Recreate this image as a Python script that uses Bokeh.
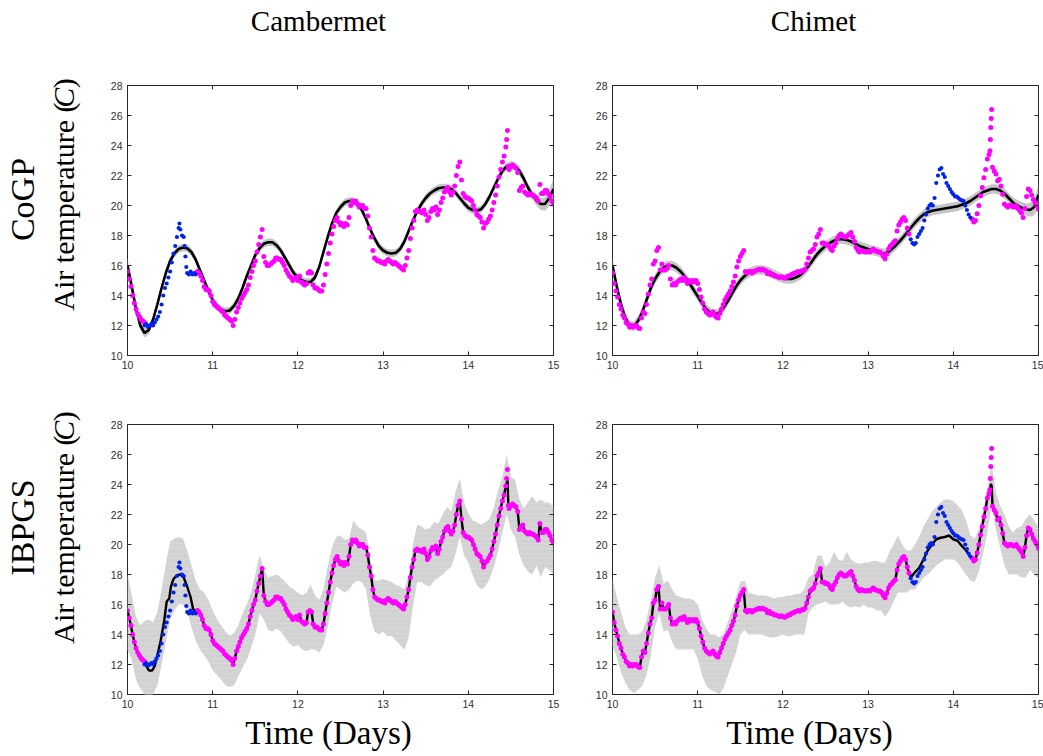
import numpy as np
from bokeh.plotting import figure
from bokeh.layouts import column, row
from bokeh.models import Label, LinearAxis, FixedTicker, Range1d
from bokeh.embed import file_html
from bokeh.resources import INLINE

# ---------------- data ----------------
station_titles = ["Cambermet", "Chimet"]
method_labels = ["CoGP", "IBPGS"]
y_label_parts = ["Air temperature (", "C", ")"]
x_label = "Time (Days)"
x_ticks = [10, 11, 12, 13, 14, 15]
y_ticks = [10, 12, 14, 16, 18, 20, 22, 24, 26, 28]

# common abscissa of the model curves (days)
grid_t = [10.00, 10.05, 10.10, 10.15, 10.20, 10.25, 10.30, 10.35, 10.40, 10.45,
          10.50, 10.55, 10.60, 10.65, 10.70, 10.75, 10.80, 10.85, 10.90, 10.95,
          11.00, 11.05, 11.10, 11.15, 11.20, 11.25, 11.30, 11.35, 11.40, 11.45,
          11.50, 11.55, 11.60, 11.65, 11.70, 11.75, 11.80, 11.85, 11.90, 11.95,
          12.00, 12.05, 12.10, 12.15, 12.20, 12.25, 12.30, 12.35, 12.40, 12.45,
          12.50, 12.55, 12.60, 12.65, 12.70, 12.75, 12.80, 12.85, 12.90, 12.95,
          13.00, 13.05, 13.10, 13.15, 13.20, 13.25, 13.30, 13.35, 13.40, 13.45,
          13.50, 13.55, 13.60, 13.65, 13.70, 13.75, 13.80, 13.85, 13.90, 13.95,
          14.00, 14.05, 14.10, 14.15, 14.20, 14.25, 14.30, 14.35, 14.40, 14.45,
          14.50, 14.55, 14.60, 14.65, 14.70, 14.75, 14.80, 14.85, 14.90, 14.95,
          15.00]

# CoGP predictive mean and half-width of the band
cogp_cam_mean = [16.0, 14.6, 13.1, 12.0, 11.5, 11.7, 12.4, 13.4, 14.5, 15.5,
                 16.3, 16.8, 17.1, 17.2, 17.15, 16.9, 16.4, 15.7, 15.0, 14.3,
                 13.7, 13.3, 13.05, 12.95, 13.0, 13.3, 13.8, 14.5, 15.3, 16.0,
                 16.7, 17.15, 17.45, 17.55, 17.55, 17.35, 17.0, 16.5, 16.0, 15.5,
                 15.2, 15.0, 14.9, 14.9, 15.2, 15.9, 16.9, 17.9, 18.8, 19.5,
                 19.9, 20.2, 20.3, 20.3, 20.1, 19.7, 19.1, 18.4, 17.8, 17.3,
                 17.0, 16.85, 16.8, 16.85, 17.1, 17.6, 18.3, 19.0, 19.6, 20.1,
                 20.5, 20.8, 21.0, 21.15, 21.2, 21.2, 21.1, 20.85, 20.5, 20.15,
                 19.85, 19.7, 19.65, 19.75, 20.1, 20.6, 21.2, 21.8, 22.3, 22.6,
                 22.7, 22.6, 22.3, 21.8, 21.2, 20.7, 20.35, 20.1, 20.1, 20.5,
                 21.1]
cogp_cam_sd = [0.5, 0.4, 0.35, 0.3, 0.3, 0.28, 0.26, 0.25, 0.25, 0.25,
               0.25, 0.25, 0.25, 0.25, 0.25, 0.25, 0.25, 0.25, 0.25, 0.25,
               0.25, 0.25, 0.25, 0.25, 0.25, 0.25, 0.25, 0.25, 0.25, 0.25,
               0.25, 0.25, 0.25, 0.25, 0.25, 0.25, 0.25, 0.25, 0.25, 0.25,
               0.25, 0.25, 0.25, 0.25, 0.25, 0.25, 0.25, 0.25, 0.25, 0.25,
               0.25, 0.25, 0.25, 0.25, 0.25, 0.25, 0.25, 0.25, 0.25, 0.25,
               0.25, 0.25, 0.25, 0.25, 0.25, 0.25, 0.25, 0.25, 0.25, 0.25,
               0.25, 0.25, 0.25, 0.25, 0.25, 0.25, 0.25, 0.25, 0.25, 0.25,
               0.25, 0.25, 0.25, 0.25, 0.25, 0.25, 0.25, 0.25, 0.25, 0.25,
               0.27, 0.28, 0.3, 0.3, 0.3, 0.32, 0.35, 0.4, 0.45, 0.55,
               0.7]
cogp_chi_mean = [16.0, 14.6, 13.4, 12.5, 12.0, 11.95, 12.3, 12.9, 13.7, 14.5,
                 15.1, 15.55, 15.85, 16.0, 16.0, 15.85, 15.6, 15.25, 14.85, 14.4,
                 13.95, 13.5, 13.1, 12.85, 12.75, 12.85, 13.15, 13.6, 14.1, 14.6,
                 15.0, 15.3, 15.5, 15.65, 15.7, 15.7, 15.65, 15.55, 15.4, 15.25,
                 15.15, 15.1, 15.1, 15.2, 15.35, 15.6, 15.95, 16.35, 16.75, 17.05,
                 17.3, 17.5, 17.65, 17.75, 17.75, 17.7, 17.6, 17.45, 17.3, 17.2,
                 17.1, 17.0, 16.95, 16.85, 16.8, 16.95, 17.2, 17.5, 17.8, 18.15,
                 18.5, 18.85, 19.15, 19.4, 19.55, 19.65, 19.7, 19.75, 19.8, 19.85,
                 19.9, 19.95, 20.05, 20.15, 20.3, 20.5, 20.7, 20.9, 21.0, 21.1,
                 21.1, 21.0, 20.8, 20.5, 20.2, 20.0, 19.85, 19.75, 19.7, 19.9,
                 20.7]
cogp_chi_sd = [0.5, 0.42, 0.38, 0.35, 0.33, 0.32, 0.32, 0.32, 0.32, 0.32,
               0.32, 0.32, 0.32, 0.32, 0.32, 0.32, 0.32, 0.32, 0.32, 0.32,
               0.32, 0.32, 0.32, 0.32, 0.32, 0.32, 0.32, 0.32, 0.32, 0.32,
               0.32, 0.32, 0.32, 0.32, 0.32, 0.32, 0.32, 0.32, 0.32, 0.32,
               0.32, 0.32, 0.32, 0.32, 0.32, 0.32, 0.32, 0.32, 0.32, 0.32,
               0.32, 0.32, 0.32, 0.32, 0.32, 0.32, 0.32, 0.32, 0.32, 0.32,
               0.32, 0.32, 0.32, 0.32, 0.32, 0.32, 0.32, 0.32, 0.32, 0.32,
               0.32, 0.32, 0.32, 0.32, 0.32, 0.32, 0.32, 0.32, 0.32, 0.32,
               0.32, 0.32, 0.32, 0.32, 0.32, 0.32, 0.32, 0.32, 0.32, 0.32,
               0.32, 0.32, 0.33, 0.34, 0.35, 0.36, 0.38, 0.4, 0.45, 0.55,
               0.7]

# IBPGS predictive band (lower / upper)
ibp_cam_lo = [13.0, 12.3, 11.0, 10.4, 10.0, 9.8, 10.0, 10.6, 12.0, 13.5,
              15.0, 15.6, 16.0, 16.0, 15.6, 14.5, 13.6, 13.0, 12.6, 12.2,
              11.6, 11.3, 11.0, 10.6, 10.5, 10.6, 11.2, 11.8, 12.3, 13.1,
              14.0, 15.4, 15.0, 14.3, 14.2, 14.4, 14.2, 13.8, 13.4, 13.2,
              13.3, 13.0, 12.9, 13.0, 13.0, 12.8, 13.3, 14.5, 16.0, 17.2,
              17.0, 16.8, 17.0, 17.4, 17.6, 17.5, 17.0, 15.2, 14.2, 14.0,
              14.2, 13.9, 13.9, 13.6, 13.3, 13.0, 13.8, 15.9, 17.5, 17.5,
              17.3, 17.2, 17.6, 17.8, 18.0, 18.3, 18.5, 19.4, 20.5, 19.3,
              18.8, 18.0, 17.3, 17.0, 17.2, 17.7, 18.5, 19.6, 20.8, 22.0,
              21.0, 20.5, 19.3, 18.6, 18.2, 18.0, 18.6, 17.8, 18.5, 18.3,
              18.0]
ibp_cam_hi = [18.0, 16.6, 15.2, 14.6, 14.9, 15.0, 14.8, 15.5, 17.0, 18.7,
              20.2, 20.4, 20.5, 20.4, 19.6, 18.6, 17.6, 17.0, 16.8, 16.3,
              15.6, 15.0, 14.6, 14.2, 13.9, 14.1, 14.6, 15.4, 16.0, 16.8,
              18.0, 19.3, 18.4, 17.8, 17.9, 18.0, 17.8, 17.5, 17.2, 17.0,
              16.8, 16.6, 16.8, 17.3, 16.6, 16.3, 17.0, 18.5, 19.8, 20.5,
              20.6, 20.3, 20.4, 21.6, 21.2, 21.0, 20.8, 19.0, 17.6, 17.6,
              17.7, 17.6, 17.5, 17.3, 17.2, 17.0, 18.0, 20.0, 21.3, 21.2,
              21.0, 21.1, 21.5, 21.4, 22.0, 22.5, 22.2, 23.5, 24.4, 22.8,
              22.1, 21.6, 21.5, 21.3, 21.5, 21.7, 22.5, 23.6, 24.5, 26.0,
              24.5, 24.3, 23.0, 22.4, 22.8, 23.2, 22.8, 23.0, 22.8, 22.8,
              22.5]
ibp_chi_lo = [13.2, 12.5, 11.5, 10.8, 10.3, 10.1, 10.3, 10.6, 11.3, 12.6,
              14.5, 15.4, 14.2, 14.3, 13.5, 13.0, 13.0, 13.0, 13.0, 13.0,
              12.4, 11.3, 10.6, 10.3, 10.2, 10.0, 10.4, 11.2, 12.0, 12.8,
              14.0, 14.3, 14.0, 14.0, 14.0, 14.0, 13.9, 13.8, 13.8, 13.9,
              14.0, 13.9, 13.9, 14.0, 14.0, 14.0, 15.4, 15.8, 16.0, 16.1,
              16.2, 16.0, 16.0, 16.0, 16.2, 15.9, 15.8, 15.9, 15.8, 16.0,
              15.8, 15.8, 15.6, 15.6, 15.2, 15.6, 16.2, 16.8, 16.8, 16.8,
              17.0, 17.0, 17.4, 17.8, 18.0, 18.3, 18.6, 18.8, 19.0, 19.0,
              19.0, 18.8, 18.4, 18.0, 17.6, 17.5, 18.2, 19.4, 20.8, 22.6,
              21.0, 19.8, 18.6, 18.0, 18.0, 18.0, 17.8, 17.8, 18.3, 18.0,
              17.7]
ibp_chi_hi = [17.7, 16.5, 15.5, 14.5, 14.0, 14.0, 14.0, 14.2, 15.0, 16.3,
              17.8, 18.6, 17.4, 17.6, 17.0, 16.6, 16.5, 16.4, 16.4, 16.3,
              16.0, 15.0, 14.4, 14.0, 14.0, 13.8, 14.0, 14.8, 15.6, 16.5,
              17.5, 17.6, 16.8, 16.7, 16.6, 16.6, 16.6, 16.5, 16.4, 16.5,
              16.5, 16.6, 16.6, 16.7, 16.7, 17.0, 17.8, 18.0, 19.2, 19.3,
              18.5, 18.8, 19.5, 19.0, 18.9, 19.5, 19.0, 18.8, 18.7, 18.8,
              18.8, 18.9, 18.9, 18.8, 18.8, 19.5, 20.0, 20.6, 20.0, 19.6,
              19.6, 20.0, 20.5, 21.2, 21.7, 22.2, 22.5, 22.8, 23.0, 23.0,
              22.9, 22.6, 22.3, 21.6, 20.6, 20.4, 21.0, 22.2, 23.8, 25.4,
              23.5, 22.6, 22.0, 21.2, 20.8, 21.1, 21.2, 21.7, 22.0, 21.6,
              21.2]

# observed air temperature, Cambermet (magenta)
cam_t = [10.00, 10.02, 10.04, 10.06, 10.08, 10.10, 10.12, 10.14, 10.16, 10.18, 10.20,
         10.82, 10.84, 10.86, 10.88, 10.90, 10.92, 10.94, 10.96, 10.98,
         11.00, 11.02, 11.04, 11.06, 11.08, 11.10, 11.12, 11.14, 11.16, 11.18,
         11.20, 11.22, 11.24, 11.26, 11.28, 11.30, 11.32, 11.34, 11.36, 11.38,
         11.40, 11.42, 11.44, 11.46, 11.48, 11.50, 11.52, 11.54, 11.56, 11.58,
         11.60, 11.62, 11.64, 11.66, 11.68, 11.70, 11.72, 11.74, 11.76, 11.78,
         11.80, 11.82, 11.84, 11.86, 11.88, 11.90, 11.92, 11.94, 11.96, 11.98,
         12.00, 12.02, 12.04, 12.06, 12.08, 12.10, 12.12, 12.14, 12.16, 12.18,
         12.20, 12.22, 12.24, 12.26, 12.28, 12.30, 12.32, 12.34, 12.36, 12.38,
         12.40, 12.42, 12.44, 12.46, 12.48, 12.50, 12.52, 12.54, 12.56, 12.58,
         12.60, 12.62, 12.64, 12.66, 12.68, 12.70, 12.72, 12.74, 12.76, 12.78,
         12.80, 12.82, 12.84, 12.86, 12.88, 12.90, 12.92, 12.94, 12.96, 12.98,
         13.00, 13.02, 13.04, 13.06, 13.08, 13.10, 13.12, 13.14, 13.16, 13.18,
         13.20, 13.22, 13.24, 13.26, 13.28, 13.30, 13.32, 13.34, 13.36, 13.38,
         13.40, 13.42, 13.44, 13.46, 13.48, 13.50, 13.52, 13.54, 13.56, 13.58,
         13.60, 13.62, 13.64, 13.66, 13.68, 13.70, 13.72, 13.74, 13.76, 13.78,
         13.80, 13.82, 13.84, 13.86, 13.88, 13.90, 13.92, 13.94, 13.96, 13.98,
         14.00, 14.02, 14.04, 14.06, 14.08, 14.10, 14.12, 14.14, 14.16, 14.18,
         14.20, 14.22, 14.24, 14.26, 14.28, 14.30, 14.32, 14.34, 14.36, 14.38,
         14.40, 14.42, 14.44, 14.45, 14.46, 14.47, 14.48, 14.50, 14.52, 14.54,
         14.56, 14.58, 14.60, 14.62, 14.64, 14.66, 14.68, 14.70, 14.72, 14.74,
         14.76, 14.78, 14.80, 14.82, 14.84, 14.86, 14.88, 14.90, 14.92, 14.94,
         14.96, 14.98, 15.00]
cam_v = [15.6, 15.1, 14.6, 14.0, 13.5, 13.1, 12.8, 12.6, 12.4, 12.3, 12.2,
         15.6, 15.5, 15.3, 15.0, 14.6, 14.4, 14.4, 14.3, 14.0,
         13.6, 13.4, 13.3, 13.2, 13.1, 13.0, 12.9, 12.7, 12.6, 12.5,
         12.4, 12.3, 12.0, 12.4, 12.9, 13.2, 13.5, 13.8, 14.0, 14.2,
         14.4, 14.7, 15.2, 15.6, 16.0, 16.3, 16.9, 17.4, 17.9, 18.4,
         16.6, 16.2, 16.0, 16.0, 16.1, 16.2, 16.3, 16.5, 16.5, 16.4,
         16.4, 16.2, 16.0, 15.7, 15.5, 15.3, 15.2, 15.0, 15.1, 15.2,
         15.0, 15.3, 14.9, 14.8, 14.7, 14.8, 15.5, 15.6, 15.5, 14.7,
         14.5, 14.5, 14.4, 14.3, 14.3, 14.7, 15.4, 16.1, 16.8, 17.5,
         18.1, 18.6, 19.0, 19.2, 18.9, 18.7, 18.8, 18.6, 18.8, 18.7,
         19.2, 20.0, 20.3, 20.2, 20.3, 20.1, 19.9, 20.0, 20.0, 19.8,
         19.8, 19.3, 18.5, 17.9, 17.0, 16.5, 16.4, 16.3, 16.3, 16.2,
         16.2, 16.1, 16.3, 16.4, 16.3, 16.2, 16.1, 16.2, 16.1, 16.0,
         15.9, 15.8, 15.7, 16.0, 16.5, 17.0, 17.8, 18.5, 19.0, 19.6,
         19.7, 19.6, 19.6, 19.5, 19.7, 19.4, 19.0, 19.2, 19.6, 19.8,
         19.7, 19.9, 19.4, 19.7, 20.2, 20.5, 20.9, 21.1, 21.2, 20.9,
         20.7, 20.9, 21.3, 22.0, 22.6, 22.9, 21.7, 20.8, 20.6, 20.5,
         20.5, 20.4, 20.3, 20.0, 19.7, 19.4, 19.3, 19.2, 18.9, 18.5,
         18.8, 18.9, 19.1, 19.3, 19.7, 20.2, 20.7, 21.3, 21.9, 22.4,
         22.9, 23.3, 23.9, 24.4, 25.0, 22.6, 22.4, 22.6, 22.7, 22.6,
         22.5, 22.2, 21.0, 21.2, 21.3, 20.9, 20.8, 20.7, 20.8, 20.7,
         20.7, 20.6, 20.5, 20.3, 21.4, 20.8, 20.8, 21.0, 21.0, 20.8,
         20.6, 20.3, 20.1]

# held-out Cambermet readings (blue)
cam_gap_t = [10.20, 10.22, 10.24, 10.26, 10.28, 10.30, 10.32, 10.34, 10.36, 10.38,
             10.40, 10.42, 10.44, 10.46, 10.48, 10.50, 10.52, 10.54, 10.56, 10.58,
             10.60, 10.61, 10.62, 10.64, 10.66, 10.67, 10.68, 10.69, 10.70, 10.72,
             10.74, 10.76, 10.78, 10.80]
cam_gap_v = [12.0, 12.1, 11.9, 12.0, 12.1, 12.0, 12.2, 12.4, 12.6, 12.9,
             13.4, 14.0, 14.5, 14.8, 15.2, 15.6, 16.2, 16.8, 17.3, 17.9,
             18.5, 18.8, 18.4, 18.0, 17.9, 17.3, 16.6, 15.9, 15.5, 15.4,
             15.6, 15.4, 15.5, 15.4]

# observed air temperature, Chimet (magenta)
chi_t = [10.00, 10.02, 10.04, 10.06, 10.08, 10.10, 10.12, 10.14, 10.16, 10.18,
         10.20, 10.22, 10.24, 10.26, 10.28, 10.30, 10.32, 10.34, 10.36, 10.38,
         10.40, 10.42, 10.44, 10.46, 10.48, 10.50, 10.52, 10.54, 10.56, 10.58,
         10.60, 10.62, 10.64, 10.66, 10.68, 10.70, 10.72, 10.74, 10.76, 10.78,
         10.80, 10.82, 10.84, 10.86, 10.88, 10.90, 10.92, 10.94, 10.96, 10.98,
         11.00, 11.02, 11.04, 11.06, 11.08, 11.10, 11.12, 11.14, 11.16, 11.18,
         11.20, 11.22, 11.24, 11.26, 11.28, 11.30, 11.32, 11.34, 11.36, 11.38,
         11.40, 11.42, 11.44, 11.46, 11.48, 11.50, 11.52, 11.54, 11.56, 11.58,
         11.60, 11.62, 11.64, 11.66, 11.68, 11.70, 11.72, 11.74, 11.76, 11.78,
         11.80, 11.82, 11.84, 11.86, 11.88, 11.90, 11.92, 11.94, 11.96, 11.98,
         12.00, 12.02, 12.04, 12.06, 12.08, 12.10, 12.12, 12.14, 12.16, 12.18,
         12.20, 12.22, 12.24, 12.26, 12.28, 12.30, 12.32, 12.34, 12.36, 12.38,
         12.40, 12.42, 12.44, 12.46, 12.48, 12.50, 12.52, 12.54, 12.56, 12.58,
         12.60, 12.62, 12.64, 12.66, 12.68, 12.70, 12.72, 12.74, 12.76, 12.78,
         12.80, 12.82, 12.84, 12.86, 12.88, 12.90, 12.92, 12.94, 12.96, 12.98,
         13.00, 13.02, 13.04, 13.06, 13.08, 13.10, 13.12, 13.14, 13.16, 13.18,
         13.20, 13.22, 13.24, 13.26, 13.28, 13.30, 13.32, 13.34, 13.36, 13.38,
         13.40, 13.42, 13.44, 13.46, 13.48,
         14.22, 14.24, 14.26, 14.28, 14.30, 14.32, 14.34, 14.36, 14.38, 14.40,
         14.42, 14.43, 14.435, 14.44, 14.445, 14.45, 14.46, 14.48, 14.50, 14.52,
         14.54, 14.56, 14.58, 14.60, 14.62, 14.64, 14.66, 14.68, 14.70, 14.72,
         14.74, 14.76, 14.78, 14.80, 14.82, 14.84, 14.86, 14.88, 14.90, 14.92,
         14.94, 14.96, 14.98, 15.00]
chi_v = [15.5, 14.8, 14.3, 13.9, 13.4, 13.1, 12.7, 12.5, 12.2, 12.1,
         11.9, 12.0, 11.9, 12.0, 12.0, 11.85, 11.8, 12.5, 12.9, 12.8,
         13.4, 14.1, 14.7, 15.1, 16.1, 16.3, 17.0, 17.2, 15.7, 16.1,
         15.7, 15.7, 15.8, 16.0, 15.1, 14.7, 14.8, 14.7, 14.9, 15.0,
         15.1, 15.0, 15.2, 15.0, 14.8, 15.0, 14.9, 15.0, 14.9, 15.0,
         14.8, 14.4, 13.9, 13.5, 13.1, 12.9, 12.8, 12.7, 12.8, 12.9,
         12.7, 12.55, 12.5, 12.8, 13.1, 13.4, 13.7, 13.9, 14.1, 14.3,
         14.6, 14.9, 15.3, 15.9, 16.3, 16.6, 16.8, 17.0, 15.6, 15.5,
         15.6, 15.6, 15.5, 15.6, 15.65, 15.7, 15.75, 15.7, 15.75, 15.7,
         15.65, 15.45, 15.55, 15.4, 15.4, 15.3, 15.3, 15.25, 15.2, 15.25,
         15.2, 15.15, 15.2, 15.3, 15.3, 15.4, 15.45, 15.5, 15.55, 15.6,
         15.55, 15.65, 15.65, 15.75, 16.1, 16.5, 16.9, 17.0, 17.1, 17.4,
         17.9, 18.1, 18.4, 17.5, 17.5, 17.4, 17.4, 17.3, 17.1, 17.0,
         17.3, 17.5, 17.8, 18.0, 18.1, 18.0, 17.9, 17.9, 18.0, 18.1,
         18.2, 17.9, 17.6, 17.2, 17.0, 16.9, 17.0, 16.95, 16.9, 16.9,
         16.95, 16.9, 17.0, 17.1, 17.0, 16.95, 16.9, 16.9, 16.8, 16.6,
         16.45, 16.75, 17.1, 17.3, 17.4, 17.55, 17.65, 18.3, 18.7, 18.9,
         19.1, 19.2, 19.0, 18.5, 18.1,
         19.1, 18.9, 19.0, 19.45, 20.0, 20.65, 21.2, 21.85, 22.4, 23.1,
         23.4, 23.65, 24.4, 25.2, 25.8, 26.4, 22.55, 22.3, 22.1, 21.65,
         21.75, 21.3, 20.75, 20.1, 20.0, 19.9, 20.0, 20.0, 19.9, 19.9,
         20.0, 19.8, 19.65, 19.5, 19.2, 19.8, 20.6, 21.1, 21.0, 20.7,
         20.4, 20.2, 20.0, 19.75]

# held-out Chimet readings (blue)
chi_gap_t = [13.50, 13.52, 13.54, 13.56, 13.58, 13.60, 13.62, 13.64, 13.66, 13.68,
             13.70, 13.72, 13.74, 13.76, 13.78, 13.80, 13.82, 13.84, 13.86, 13.88,
             13.90, 13.92, 13.94, 13.96, 13.98, 14.00, 14.02, 14.04, 14.06, 14.08,
             14.10, 14.12, 14.14, 14.16, 14.18, 14.20]
chi_gap_v = [17.75, 17.5, 17.4, 17.5, 17.9, 18.1, 18.3, 18.5, 19.0, 19.4,
             19.8, 20.0, 20.1, 20.0, 20.5, 21.5, 22.0, 22.4, 22.5, 22.1,
             21.9, 21.5, 21.3, 21.1, 20.9, 20.75, 20.6, 20.6, 20.5, 20.4,
             20.35, 20.3, 20.0, 19.7, 19.4, 19.2]

# IBPGS mean inside the held-out windows
ibp_cam_gap_t = [10.19, 10.22, 10.25, 10.29, 10.32, 10.35, 10.39, 10.43, 10.46, 10.49,
                 10.51, 10.54, 10.58, 10.62, 10.66, 10.70, 10.74, 10.77, 10.80, 10.81]
ibp_cam_gap_v = [12.2, 11.9, 11.6, 11.6, 11.9, 12.6, 13.6, 14.9, 16.2, 16.4,
                 17.2, 17.7, 17.95, 18.0, 17.8, 17.2, 16.5, 15.7, 15.6, 15.6]
ibp_chi_gap_t = [13.49, 13.50, 13.55, 13.60, 13.65, 13.70, 13.75, 13.80, 13.85, 13.90,
                 13.95, 14.00, 14.05, 14.10, 14.15, 14.20, 14.21]
ibp_chi_gap_v = [18.1, 17.8, 18.15, 18.45, 19.0, 19.6, 20.0, 20.35, 20.45, 20.5,
                 20.6, 20.35, 20.25, 19.9, 19.6, 19.2, 19.1]
# IBPGS mean at the short spikes, where it stays below the readings
ibp_cam_peak_t = [14.45, 14.46]
ibp_cam_peak_v = [24.1, 24.3]
ibp_chi_peak_t = [14.435, 14.44, 14.445, 14.45]
ibp_chi_peak_v = [23.8, 24.0, 24.0, 23.9]

# ---------------- styling ----------------
MAGENTA = "#ff00ff"
BLUE = "#0022ee"
FRAME = "#262626"
SERIF = "Liberation Serif"
FW, FH = 426, 270
W_TOTAL, H_TOTAL = 1043, 756
TOP_H, BOT_H, LEFT_W = 45, 42, 107
RIGHT_W = W_TOTAL - LEFT_W


def text_strip(width, height):
    s = figure(width=width, height=height, x_range=Range1d(0, 1), y_range=Range1d(0, 1),
               x_axis_type=None, y_axis_type=None, title=None,
               output_backend="svg", toolbar_location=None, min_border=0)
    s.outline_line_color = None
    s.grid.visible = False
    s.background_fill_color = "white"
    s.border_fill_color = "white"
    return s


def put(s, text, x, y, size, angle=0.0, align="center", style="normal"):
    s.add_layout(Label(x=x, y=y, x_units="screen", y_units="screen", text=text,
                       text_font=SERIF, text_font_size=size, text_color="black",
                       text_font_style=style, text_align=align,
                       text_baseline="middle", angle=angle))


def make_panel(bl, br, bt, bb):
    p = figure(frame_width=FW, frame_height=FH,
               x_range=Range1d(10, 15), y_range=Range1d(10, 28), title=None,
               output_backend="svg", toolbar_location=None,
               min_border_left=bl, min_border_right=br,
               min_border_top=bt, min_border_bottom=bb)
    p.xgrid.visible = False
    p.ygrid.visible = False
    p.outline_line_color = FRAME
    p.outline_line_width = 1
    p.background_fill_color = "white"
    p.border_fill_color = "white"
    for ax in (p.xaxis[0], p.yaxis[0]):
        ax.axis_line_color = None
        ax.major_tick_in = 4
        ax.major_tick_out = 0
        ax.minor_tick_line_color = None
        ax.major_tick_line_color = FRAME
        ax.major_label_text_font = "Liberation Sans"
        ax.major_label_text_font_size = "10.5px"
        ax.major_label_text_color = "#303030"
        ax.major_label_standoff = 5
    p.xaxis[0].ticker = FixedTicker(ticks=x_ticks)
    p.yaxis[0].ticker = FixedTicker(ticks=y_ticks)
    for side, tks in (("above", x_ticks), ("right", y_ticks)):
        ax = LinearAxis(ticker=FixedTicker(ticks=tks), axis_line_color=None,
                        major_tick_in=4, major_tick_out=0,
                        major_tick_line_color=FRAME,
                        minor_tick_line_color=None,
                        major_label_text_font_size="1px",
                        major_label_text_color=None,
                        major_label_standoff=0)
        p.add_layout(ax, side)
    return p


def ibpgs_mean(t_obs, v_obs, t_gap, v_gap, t_peak, v_peak):
    keep = [(t, v) for t, v in zip(t_obs, v_obs) if t not in t_peak]
    t = np.array([k[0] for k in keep] + list(t_gap) + list(t_peak))
    v = np.array([k[1] for k in keep] + list(v_gap) + list(v_peak))
    order = np.argsort(t, kind="stable")
    return t[order], v[order]


stations = [
    (cogp_cam_mean, cogp_cam_sd, ibp_cam_lo, ibp_cam_hi, cam_t, cam_v,
     cam_gap_t, cam_gap_v, ibp_cam_gap_t, ibp_cam_gap_v, ibp_cam_peak_t, ibp_cam_peak_v),
    (cogp_chi_mean, cogp_chi_sd, ibp_chi_lo, ibp_chi_hi, chi_t, chi_v,
     chi_gap_t, chi_gap_v, ibp_chi_gap_t, ibp_chi_gap_v, ibp_chi_peak_t, ibp_chi_peak_v),
]

# borders: (left, right, top, bottom)
borders = {
    (0, 0): (20, 12, 40, 35), (0, 1): (47, 5, 40, 35),
    (1, 0): (20, 12, 34, 20), (1, 1): (47, 5, 34, 20),
}

panel_rows = []
for r in range(2):
    prow = []
    for c in range(2):
        (cm, csd, ilo, ihi, ot, ov, gt, gv, igt, igv, ipt, ipv) = stations[c]
        p = make_panel(*borders[(r, c)])
        gx = np.array(grid_t)
        if r == 0:
            m = np.array(cm)
            s = np.array(csd)
            p.varea(x=gx, y1=m - s, y2=m + s, fill_color="#c6c6c6", fill_alpha=1.0)
            p.line(gx, m, line_color="black", line_width=2.6)
        else:
            p.varea(x=gx, y1=np.array(ilo), y2=np.array(ihi),
                    fill_color="#d2d2d2", fill_alpha=1.0,
                    hatch_pattern="horizontal_line", hatch_color="#dedede",
                    hatch_weight=0.6, hatch_scale=5)
            mt, mv = ibpgs_mean(ot, ov, igt, igv, ipt, ipv)
            p.line(mt, mv, line_color="black", line_width=2.4)
        p.scatter(ot, ov, size=5.0, fill_color=MAGENTA, line_color=None)
        p.scatter(gt, gv, size=4.2, fill_color=BLUE, line_color=None)
        prow.append(p)
    panel_rows.append(prow)

# ---- text strips (titles, row labels, axis labels) ----
top_strip = text_strip(RIGHT_W, TOP_H)
put(top_strip, station_titles[0], 318 - LEFT_W, 25, "29px")
put(top_strip, station_titles[1], 813 - LEFT_W, 25, "29px")

bottom_strip = text_strip(RIGHT_W, BOT_H)
put(bottom_strip, x_label, 328 - LEFT_W, 24, "33px")
put(bottom_strip, x_label, 809 - LEFT_W, 24, "33px")

left_strip = text_strip(LEFT_W, H_TOTAL)
row_label_center = [199, 527]     # page y of the row label centres
ylabel_center = [194, 527]        # page y of the y-label centres
piece_len = [202.8, 19.7, 9.8]    # lengths of the three y-label pieces (30px)
styles = ["normal", "italic", "normal"]
for r in range(2):
    put(left_strip, method_labels[r], 22, H_TOTAL - row_label_center[r], "34px",
        angle=np.pi / 2)
    start = H_TOTAL - (ylabel_center[r] + sum(piece_len) / 2)
    offs = [0, piece_len[0], piece_len[0] + piece_len[1]]
    for k in range(3):
        put(left_strip, y_label_parts[k], 63, start + offs[k], "30px",
            angle=np.pi / 2, align="left", style=styles[k])

right_block = column(
    top_strip,
    row(panel_rows[0][0], panel_rows[0][1], spacing=0),
    row(panel_rows[1][0], panel_rows[1][1], spacing=0),
    bottom_strip,
    spacing=0,
)
layout = row(left_strip, right_block, spacing=0)
html = file_html(layout, INLINE, "Air temperature")
open("out.html", "w").write(html)
